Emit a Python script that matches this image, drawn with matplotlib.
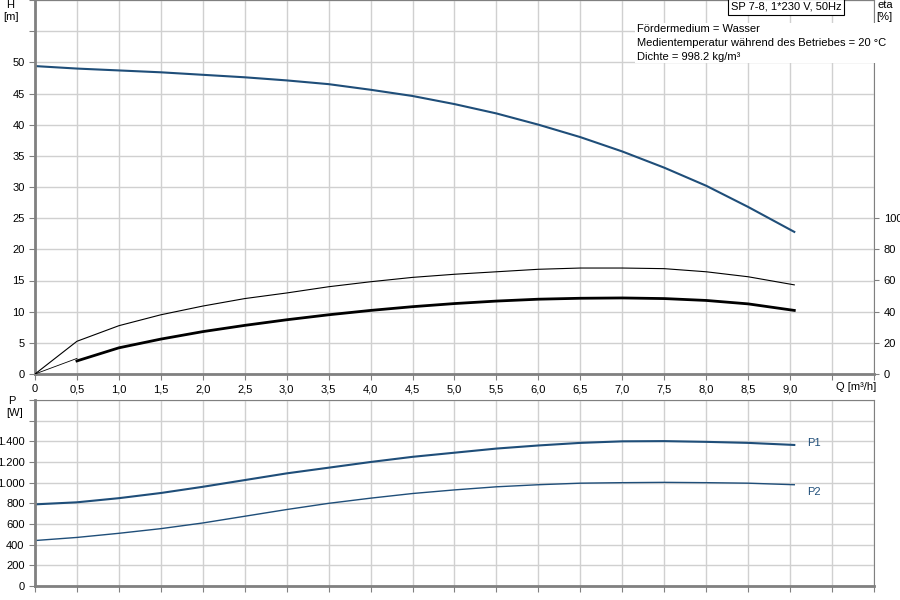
import numpy as np
import matplotlib.pyplot as plt

plt.rcParams['font.family'] = ['Liberation Sans', 'DejaVu Sans']
plt.rcParams['font.size'] = 8

# curve data (Q in m³/h)
q_h = [0, 0.5, 1, 1.5, 2, 2.5, 3, 3.5, 4, 4.5, 5, 5.5, 6, 6.5, 7, 7.5, 8, 8.5, 9.05]
head = [49.4, 49.0, 48.7, 48.4, 48.0, 47.6, 47.1, 46.5, 45.6, 44.6, 43.3, 41.8, 40.0, 38.0, 35.7, 33.1, 30.2, 26.8, 22.8]
q_eta = [0, 0.5, 1, 1.5, 2, 2.5, 3, 3.5, 4, 4.5, 5, 5.5, 6, 6.5, 7, 7.5, 8, 8.5, 9.05]
eta_upper = [0, 21, 31, 38, 43.6, 48.4, 52, 56, 59.2, 62, 64, 65.6, 67.2, 68, 68, 67.6, 65.6, 62.4, 57.2]
eta_lower = [0, 8.4, 16.8, 22.4, 27.2, 31.2, 34.8, 38, 40.8, 43.2, 45.2, 46.8, 48, 48.6, 48.8, 48.4, 47.2, 45, 40.8]
q_p = [0, 0.5, 1, 1.5, 2, 2.5, 3, 3.5, 4, 4.5, 5, 5.5, 6, 6.5, 7, 7.5, 8, 8.5, 9.05]
p1 = [790, 810, 850, 900, 960, 1025, 1090, 1145, 1200, 1250, 1290, 1330, 1360, 1385, 1400, 1402, 1395, 1385, 1365]
p2 = [440, 470, 510, 555, 610, 675, 740, 800, 850, 895, 930, 960, 980, 995, 1000, 1003, 1000, 995, 980]
x_ticks = np.arange(0, 9.5, 0.5)
x_labels = [f"{v:.1f}".replace('.', ',') if v else '0' for v in x_ticks]

blue = '#1f4e79'
grid_c = '#d0d0d0'
spine_c = '#808080'

fig = plt.figure(figsize=(9, 6), dpi=100)
ax = fig.add_axes([35/900, 226/600, 839/900, 374/600])
axp = fig.add_axes([35/900, 14/600, 839/900, 186/600])

for a in (ax, axp):
    a.set_xlim(0, 10)
    a.set_xticks(np.arange(0, 10.01, 0.5))
    a.grid(True, color=grid_c, lw=1)
    for s in a.spines.values():
        s.set_color(spine_c)
    a.spines['left'].set_linewidth(2)
    a.spines['bottom'].set_linewidth(2)
    a.tick_params(labelsize=8, length=4, colors=spine_c, labelcolor='black')

# top: head and efficiency
ax.set_ylim(0, 60)
ax.set_yticks(np.arange(0, 60.1, 5))
ax.set_yticklabels([str(v) if v <= 50 else '' for v in range(0, 61, 5)])
ax.set_xticklabels(x_labels + [''] * 2)
ax.plot(q_h, head, color=blue, lw=1.5)

ax2 = ax.twinx()
ax2.set_ylim(0, 240)
ax2.set_yticks(np.arange(0, 101, 20))
ax2.tick_params(colors=spine_c, labelcolor='black', labelsize=8)
for s in ax2.spines.values():
    s.set_visible(False)
ax2.plot(q_eta, eta_upper, color='black', lw=0.8)
ax2.plot(q_eta[:2], [0, 10], color='black', lw=0.6)
ax2.plot(q_eta[1:], eta_lower[1:], color='black', lw=2)

fig.text(6/900, 1 - 8/600, 'H', fontsize=8)
fig.text(3/900, 1 - 20/600, '[m]', fontsize=8)
fig.text(878/900, 1 - 8/600, 'eta', fontsize=8)
fig.text(876/900, 1 - 20/600, '[%]', fontsize=8)
ax.text(0.961, 0.995, 'SP 7-8, 1*230 V, 50Hz', transform=ax.transAxes, ha='right', va='top',
        fontsize=8, bbox=dict(fc='white', ec='black', lw=0.8, pad=2))
ax.text(0.717, 0.935, 'Fördermedium = Wasser\nMedientemperatur während des Betriebes = 20 °C\nDichte = 998.2 kg/m³',
        transform=ax.transAxes, ha='left', va='top', fontsize=8, linespacing=1.45,
        bbox=dict(fc='white', ec='none', pad=1))
ax.text(9.55, -1.3, 'Q [m³/h]', ha='left', va='top', fontsize=8)

# bottom: power
axp.set_ylim(0, 1800)
axp.set_yticks(np.arange(0, 1801, 200))
axp.set_yticklabels([f"{v:,}".replace(',', '.') if v <= 1400 else '' for v in range(0, 1801, 200)])
axp.set_xticklabels([])
axp.plot(q_p, p1, color=blue, lw=1.5)
axp.plot(q_p, p2, color=blue, lw=1)
axp.text(9.2, p1[-1] + 20, 'P1', color=blue, fontsize=8, va='center')
axp.text(9.2, p2[-1] - 70, 'P2', color=blue, fontsize=8, va='center')
fig.text(8/900, 1 - 404/600, 'P', fontsize=8)
fig.text(6/900, 1 - 416/600, '[W]', fontsize=8)

fig.savefig('out.png', dpi=100)
